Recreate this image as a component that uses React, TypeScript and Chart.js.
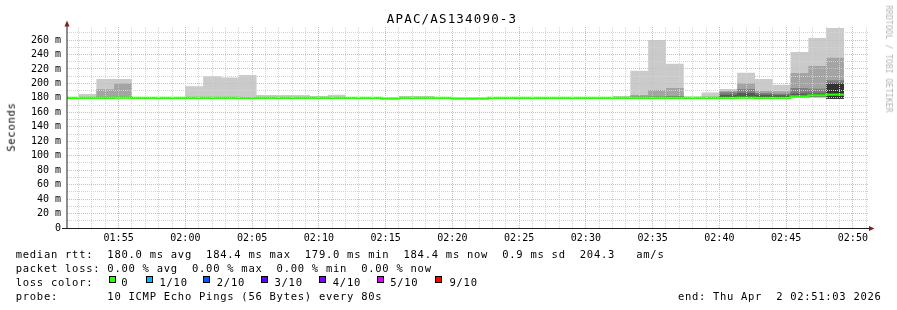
import React, { useEffect, useRef } from 'react';
import { Chart, registerables } from 'chart.js';

Chart.register(...registerables);

// ---- data (SmokePing: 10 ICMP pings every 80 s, sorted ping1 = fastest) ----
const stepTimes = [
  '01:50:40', '01:52:00', '01:53:20', '01:54:40', '01:56:00', '01:57:20', '01:58:40', '02:00:00', '02:01:20', '02:02:40',
  '02:04:00', '02:05:20', '02:06:40', '02:08:00', '02:09:20', '02:10:40', '02:12:00', '02:13:20', '02:14:40', '02:16:00',
  '02:17:20', '02:18:40', '02:20:00', '02:21:20', '02:22:40', '02:24:00', '02:25:20', '02:26:40', '02:28:00', '02:29:20',
  '02:30:40', '02:32:00', '02:33:20', '02:34:40', '02:36:00', '02:37:20', '02:38:40', '02:40:00', '02:41:20', '02:42:40',
  '02:44:00', '02:45:20', '02:46:40', '02:48:00',
];
const stepEnd = '02:49:20';

const median = [
  180.0, 180.0, 180.1, 180.2, 180.0, 180.0, 180.0, 180.0, 180.0, 180.0,
  179.8, 180.0, 180.0, 180.0, 180.0, 180.0, 180.0, 180.0, 179.0, 180.0,
  180.0, 180.0, 179.0, 179.0, 180.0, 180.0, 180.0, 180.0, 180.0, 180.0,
  180.0, 180.0, 180.0, 180.1, 180.1, 180.0, 180.0, 180.0, 180.2, 180.1,
  180.1, 182.0, 183.6, 184.4,
];
const ping10 = [
  180.8, 185.3, 206.0, 206.0, 180.7, 180.7, 180.7, 196.0, 210.0, 208.0,
  211.6, 184.0, 184.0, 184.0, 182.5, 184.4, 180.7, 180.7, 179.7, 182.6,
  182.6, 180.7, 179.7, 179.7, 180.7, 180.7, 180.7, 180.7, 180.7, 180.7,
  180.7, 182.6, 217.6, 260.0, 227.3, 182.0, 187.5, 192.2, 214.6, 206.0,
  198.0, 243.4, 262.8, 276.6,
];
const ping9 = [
  180.6, 181.0, 192.0, 200.0, 180.5, 180.5, 180.5, 181.0, 181.3, 181.2,
  181.2, 181.0, 181.0, 181.0, 180.8, 181.0, 180.5, 180.5, 179.5, 181.0,
  181.0, 180.5, 179.5, 179.5, 180.5, 180.5, 180.5, 180.5, 180.5, 180.5,
  180.5, 181.0, 184.0, 190.8, 193.6, 181.0, 181.5, 189.9, 200.3, 189.9,
  189.0, 214.4, 224.0, 235.5,
];
const ping8 = [
  180.4, 180.5, 181.0, 181.2, 180.4, 180.4, 180.4, 180.5, 180.7, 180.6,
  180.6, 180.5, 180.5, 180.5, 180.4, 180.5, 180.4, 180.4, 179.4, 180.5,
  180.5, 180.4, 179.4, 179.4, 180.4, 180.4, 180.4, 180.4, 180.4, 180.4,
  180.4, 180.5, 181.5, 182.0, 182.5, 180.5, 180.8, 187.6, 192.2, 186.7,
  185.7, 193.6, 192.7, 204.5,
];
const ping7 = [
  180.3, 180.3, 180.5, 180.6, 180.2, 180.2, 180.2, 180.3, 180.4, 180.4,
  180.3, 180.3, 180.3, 180.3, 180.2, 180.3, 180.2, 180.2, 179.2, 180.3,
  180.3, 180.2, 179.2, 179.2, 180.2, 180.2, 180.2, 180.2, 180.2, 180.2,
  180.2, 180.3, 180.6, 180.8, 180.9, 180.3, 180.4, 184.4, 186.7, 184.4,
  183.5, 186.0, 186.0, 200.5,
];
const ping6 = [
  180.1, 180.1, 180.2, 180.3, 180.1, 180.1, 180.1, 180.1, 180.2, 180.2,
  180.0, 180.1, 180.1, 180.1, 180.1, 180.1, 180.1, 180.1, 179.1, 180.1,
  180.1, 180.1, 179.1, 179.1, 180.1, 180.1, 180.1, 180.1, 180.1, 180.1,
  180.1, 180.1, 180.1, 180.3, 180.3, 180.1, 180.2, 181.5, 182.0, 181.5,
  181.5, 183.0, 184.5, 199.0,
];
const ping5 = [
  179.9, 179.9, 180.0, 180.1, 179.9, 179.9, 179.9, 179.9, 179.9, 179.9,
  179.7, 179.9, 179.9, 179.9, 179.9, 179.9, 179.9, 179.9, 178.9, 179.9,
  179.9, 179.9, 178.9, 178.9, 179.9, 179.9, 179.9, 179.9, 179.9, 179.9,
  179.9, 179.9, 179.9, 180.0, 180.0, 179.9, 179.9, 179.9, 180.1, 180.0,
  180.0, 181.6, 182.8, 178.8,
];
const ping4 = [
  179.7, 179.7, 179.8, 179.9, 179.7, 179.7, 179.7, 179.7, 179.7, 179.7,
  179.5, 179.7, 179.7, 179.7, 179.7, 179.7, 179.7, 179.7, 178.8, 179.7,
  179.7, 179.7, 178.8, 178.8, 179.7, 179.7, 179.7, 179.7, 179.7, 179.7,
  179.7, 179.7, 179.7, 179.8, 179.8, 179.7, 179.7, 179.7, 179.9, 179.8,
  179.8, 181.2, 182.2, 178.7,
];
const ping3 = [
  179.6, 179.6, 179.7, 179.8, 179.6, 179.6, 179.6, 179.6, 179.6, 179.6,
  179.4, 179.6, 179.6, 179.6, 179.6, 179.6, 179.6, 179.6, 178.7, 179.6,
  179.6, 179.6, 178.7, 178.7, 179.6, 179.6, 179.6, 179.6, 179.6, 179.6,
  179.6, 179.6, 179.6, 179.7, 179.7, 179.6, 179.6, 179.6, 179.8, 179.7,
  179.7, 180.8, 181.5, 178.6,
];
const ping2 = [
  179.4, 179.4, 179.5, 179.6, 179.4, 179.4, 179.4, 179.4, 179.4, 179.4,
  179.2, 179.4, 179.4, 179.4, 179.4, 179.4, 179.4, 179.4, 178.6, 179.4,
  179.4, 179.4, 178.6, 178.6, 179.4, 179.4, 179.4, 179.4, 179.4, 179.4,
  179.4, 179.4, 179.4, 179.5, 179.5, 179.4, 179.4, 179.4, 179.6, 179.5,
  179.5, 180.4, 180.8, 178.5,
];
const ping1 = [
  179.2, 179.2, 179.3, 179.4, 179.2, 179.2, 179.2, 179.2, 179.2, 179.2,
  179.0, 179.2, 179.2, 179.2, 179.2, 179.2, 179.2, 179.2, 178.4, 179.2,
  179.2, 179.2, 178.4, 178.4, 179.2, 179.2, 179.2, 179.2, 179.2, 179.2,
  179.2, 179.2, 179.2, 179.3, 179.3, 179.2, 179.2, 179.2, 179.4, 179.3,
  179.3, 180.0, 180.2, 178.3,
];

// axis ranges / ticks
const xStart = '01:51:08';
const xEnd = '02:51:08';
const xGridStart = '01:52:00';
const xGridEnd = '02:51:00';
const xLabelEveryMin = 5;
const yMax = 278;
const yGridStep = 10;
const yLabelStep = 20;

// legend texts
const title = 'APAC/AS134090-3';
const yTitle = 'Seconds';
const rttLine = 'median rtt:  180.0 ms avg  184.4 ms max  179.0 ms min  184.4 ms now  0.9 ms sd  204.3   am/s';
const lossLine = 'packet loss: 0.00 % avg  0.00 % max  0.00 % min  0.00 % now';
const lossLabels = ['0', '1/10', '2/10', '3/10', '4/10', '5/10', '9/10'];
const lossColors = ['#26ff00', '#00b8ff', '#0059ff', '#5e00ff', '#7e00ff', '#dd00ff', '#ff0000'];
const probeLine = 'probe:       10 ICMP Echo Pings (56 Bytes) every 80s';
const endLine = 'end: Thu Apr  2 02:51:03 2026';
const watermark = 'RRDTOOL / TOBI OETIKER';

// ---- helpers ----
const BASE = 1 * 3600 + 50 * 60;
const toSec = (hms: string) => {
  const [h, m, s] = hms.split(':').map(Number);
  return h * 3600 + m * 60 + (s || 0) - BASE;
};
const fmtTime = (sec: number) => {
  const t = BASE + sec;
  const h = Math.floor(t / 3600);
  const m = Math.floor((t % 3600) / 60);
  return `${String(h).padStart(2, '0')}:${String(m).padStart(2, '0')}`;
};
const stepped = (vals: number[]) => [
  ...stepTimes.map((t, i) => ({ x: toSec(t), y: vals[i] })),
  { x: toSec(stepEnd), y: vals[vals.length - 1] },
];

const MONO = "'DejaVu Sans Mono', monospace";
const MAJOR = '#f2adad';
const MINOR = '#d3d3d3';

const axesPlugin = {
  id: 'rrdAxes',
  afterDraw(chart: any) {
    const { ctx, chartArea: a } = chart;
    ctx.save();
    ctx.strokeStyle = '#1f1f1f';
    ctx.lineWidth = 1;
    ctx.beginPath();
    ctx.moveTo(a.left - 5, a.bottom + 0.5);
    ctx.lineTo(a.right + 2, a.bottom + 0.5);
    ctx.stroke();
    ctx.beginPath();
    ctx.moveTo(a.left, a.bottom + 1);
    ctx.lineTo(a.left, a.top - 2);
    ctx.stroke();
    ctx.fillStyle = '#801f1f';
    ctx.beginPath();
    ctx.moveTo(a.left - 2.5, a.top - 0.5);
    ctx.lineTo(a.left + 2.5, a.top - 0.5);
    ctx.lineTo(a.left, a.top - 6.5);
    ctx.closePath();
    ctx.fill();
    ctx.beginPath();
    ctx.moveTo(a.right + 1, a.bottom - 2);
    ctx.lineTo(a.right + 1, a.bottom + 3);
    ctx.lineTo(a.right + 6.5, a.bottom + 0.5);
    ctx.closePath();
    ctx.fill();
    ctx.restore();
  },
};

function ChartCanvas() {
  const ref = useRef<HTMLCanvasElement | null>(null);
  useEffect(() => {
    if (!ref.current) return;
    const layers = [
      { lo: ping1, hi: ping10, color: '#cacaca' },
      { lo: ping2, hi: ping9, color: '#a4a4a4' },
      { lo: ping3, hi: ping8, color: '#7e7e7e' },
      { lo: ping4, hi: ping7, color: '#585858' },
      { lo: ping5, hi: ping6, color: '#323232' },
    ];
    const datasets: any[] = [];
    layers.forEach((L, i) => {
      datasets.push({
        data: stepped(L.lo), borderWidth: 0, borderColor: 'transparent', pointRadius: 0,
        stepped: true, fill: false, order: 20 - i * 2,
      });
      datasets.push({
        data: stepped(L.hi), borderWidth: 0, borderColor: 'transparent', backgroundColor: L.color,
        pointRadius: 0, stepped: true, fill: '-1', order: 19 - i * 2,
      });
    });
    datasets.push({
      data: stepped(median), borderColor: '#26ff00', borderWidth: 2.2, pointRadius: 0,
      stepped: true, fill: false, order: 0,
    });

    const xTicks: number[] = [];
    for (let v = toSec(xGridStart); v <= toSec(xGridEnd); v += 60) xTicks.push(v);
    const yTicks: number[] = [];
    for (let v = 0; v < yMax; v += yGridStep) yTicks.push(v);
    const tickFont = { family: MONO, size: 10, lineHeight: 1.2 };

    const chart = new Chart(ref.current, {
      type: 'line',
      data: { datasets },
      plugins: [axesPlugin],
      options: {
        animation: false,
        responsive: false,
        devicePixelRatio: 1,
        events: [],
        layout: { padding: { left: 0, top: 27, right: 29, bottom: 0 } },
        plugins: { legend: { display: false }, title: { display: false }, tooltip: { enabled: false } },
        scales: {
          x: {
            type: 'linear',
            min: toSec(xStart),
            max: toSec(xEnd),
            afterBuildTicks: (s: any) => { s.ticks = xTicks.map((value) => ({ value })); },
            afterFit: (s: any) => { s.height = 82; },
            grid: {
              color: (c: any) => (c.tick && c.tick.value % (xLabelEveryMin * 60) === 0 ? MAJOR : MINOR),
              lineWidth: 1, drawTicks: false, z: 1,
            },
            border: { display: false, dash: [1, 1] },
            ticks: {
              autoSkip: false, maxRotation: 0, minRotation: 0, padding: 4, color: '#000', font: tickFont,
              callback: (v: any) => (Number(v) % (xLabelEveryMin * 60) === 0 ? fmtTime(Number(v)) : ''),
            },
          },
          y: {
            min: 0,
            max: yMax,
            afterBuildTicks: (s: any) => { s.ticks = yTicks.map((value) => ({ value })); },
            afterFit: (s: any) => { s.width = 67; },
            grid: {
              color: (c: any) => (c.tick && c.tick.value % yLabelStep === 0 ? MAJOR : MINOR),
              lineWidth: 1, drawTicks: false, z: 1,
            },
            border: { display: false, dash: [1, 1] },
            ticks: {
              autoSkip: false, padding: 6, color: '#000', font: tickFont,
              callback: (v: any) => {
                const n = Number(v);
                if (n % yLabelStep !== 0) return '';
                return n === 0 ? '0' : `${n} m`;
              },
            },
          },
        },
      } as any,
    });
    return () => chart.destroy();
  }, []);
  return <canvas ref={ref} width={897} height={310} style={{ display: 'block', width: 897, height: 310 }} />;
}

const legendFont: React.CSSProperties = {
  position: 'absolute', fontFamily: MONO, fontSize: 10.5, letterSpacing: '0.73px',
  lineHeight: 1, whiteSpace: 'pre', color: '#000',
};
const lossSquareX = [109, 145.7, 203.3, 261, 319, 376.7, 435];
const lossLabelX = [121.2, 159.5, 216.8, 274.5, 332.8, 390.2, 449.5];

export default function App() {
  return (
    <div style={{ position: 'absolute', left: 0, top: 0, width: 897, height: 310, background: '#fff', overflow: 'hidden' }}>
      <ChartCanvas />
      <div style={{ ...legendFont, left: 386.8, top: 13.4, fontSize: 12.5, letterSpacing: '1.17px' }}>{title}</div>
      <div style={{ ...legendFont, left: 10.5, top: 127, transform: 'translate(-50%, -50%) rotate(-90deg)' }}>{yTitle}</div>
      <div style={{ ...legendFont, left: 887.5, top: 58.5, fontSize: 8, letterSpacing: '0.05px', color: '#b4b4b4', transform: 'translate(-50%, -50%) rotate(90deg)' }}>{watermark}</div>
      <div style={{ ...legendFont, left: 15.7, top: 249.4 }}>{rttLine}</div>
      <div style={{ ...legendFont, left: 15.7, top: 263.4 }}>{lossLine}</div>
      <div style={{ ...legendFont, left: 15.7, top: 277.4 }}>loss color:</div>
      {lossLabels.map((lab, i) => (
        <React.Fragment key={lab}>
          <div style={{ position: 'absolute', left: lossSquareX[i], top: 276, width: 7, height: 7, boxSizing: 'border-box', border: '1px solid #000', background: lossColors[i] }} />
          <div style={{ ...legendFont, left: lossLabelX[i], top: 277.4 }}>{lab}</div>
        </React.Fragment>
      ))}
      <div style={{ ...legendFont, left: 15.7, top: 291.4 }}>{probeLine}</div>
      <div style={{ ...legendFont, right: 15.5, top: 291.4, letterSpacing: '0.7px' }}>{endLine}</div>
    </div>
  );
}
